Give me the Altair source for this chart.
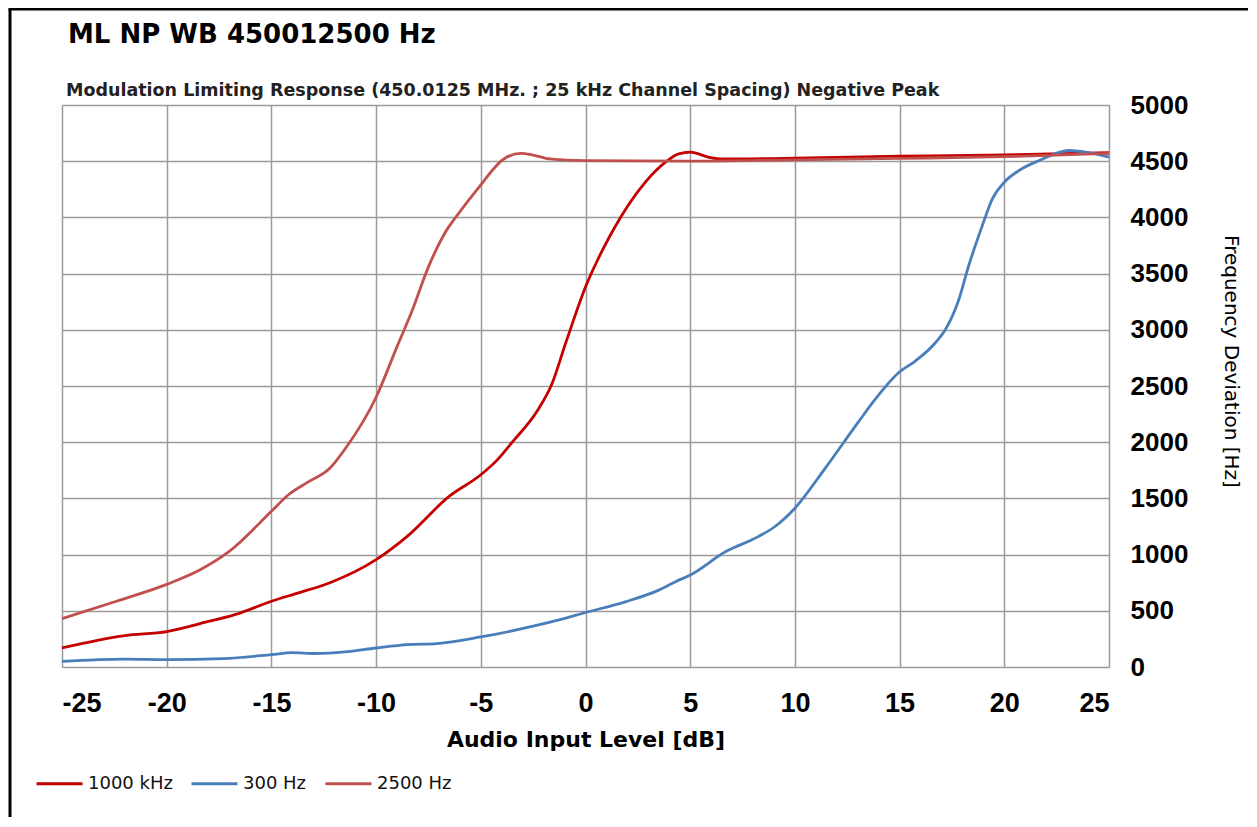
import altair as alt
import pandas as pd

# ---- data ----
chart_title = "ML NP WB 450012500 Hz"
chart_subtitle = "Modulation Limiting Response (450.0125 MHz. ; 25 kHz Channel Spacing) Negative Peak"

series_names = ["1000 kHz", "300 Hz", "2500 Hz"]
series_colors = ["#C40000", "#4A7EBB", "#C0504D"]
series_widths = [2.8, 2.8, 4.4]

x_1000 = [-25, -22, -20, -18, -16.5, -15, -13.7, -12.2, -10, -8.5, -6.5, -5, -4.2, -3.5,
          -2.3, -1.6, -0.95, 0, 1.27, 2.86, 3.82, 4.45, 5, 5.9, 6.5, 10, 15, 20, 25]
y_1000 = [170, 280, 315, 405, 480, 585, 660, 750, 955, 1165, 1520, 1710, 1845, 2000,
          2280, 2520, 2880, 3380, 3870, 4314, 4491, 4565, 4580, 4535, 4520, 4527, 4545, 4555, 4575]

x_300 = [-25, -22, -20, -17.3, -15, -14, -12.9, -11.5, -10, -8.5, -7.1, -5, -2.35, -1.27, 0,
         1.9, 3.5, 4.3, 5, 6.7, 8.25, 9.05, 10, 11.4, 13, 13.83, 14.95, 15.75, 16.71, 17.19,
         17.83, 18.3, 18.95, 19.43, 20, 20.7, 21.66, 23.1, 23.9, 25]
y_300 = [50, 70, 65, 75, 110, 128, 120, 134, 169, 199, 208, 267, 370, 420, 485,
         580, 684, 759, 818, 1027, 1160, 1250, 1413, 1756, 2172, 2381, 2618, 2722, 2885, 3003,
         3270, 3570, 3927, 4165, 4313, 4417, 4506, 4595, 4580, 4536]

x_2500 = [-25, -22.4, -20, -18.4, -17, -15, -14.2, -13.3, -12.2, -11.5, -10, -9, -8.3, -7.5,
          -6.75, -6, -5.15, -3.9, -3.1, -2.5, -1.7, 0, 5, 10, 15, 20, 25]
y_2500 = [430, 585, 735, 865, 1030, 1385, 1530, 1640, 1770, 1935, 2400, 2850, 3160, 3560,
          3850, 4050, 4254, 4520, 4570, 4555, 4520, 4505, 4500, 4512, 4525, 4540, 4570]

x_ticks = [-25, -20, -15, -10, -5, 0, 5, 10, 15, 20, 25]
y_ticks = [0, 500, 1000, 1500, 2000, 2500, 3000, 3500, 4000, 4500, 5000]

rows = []
for name, xs, ys in [("1000 kHz", x_1000, y_1000), ("300 Hz", x_300, y_300), ("2500 Hz", x_2500, y_2500)]:
    for i, (a, b) in enumerate(zip(xs, ys)):
        rows.append({"series": name, "level": a, "dev": b, "order": i})
df = pd.DataFrame(rows)

SANS = "Liberation Sans"
WIDE = "DejaVu Sans"

lines = alt.Chart(df).mark_line(interpolate="monotone").encode(
    x=alt.X("level:Q", scale=alt.Scale(domain=[-25, 25], nice=False),
            axis=alt.Axis(values=x_ticks, title="Audio Input Level [dB]", ticks=False, domain=False,
                          labelExpr="'' + datum.value",
                          labelFontSize=27, labelFontWeight="bold", labelColor="#000", labelFont=SANS,
                          labelPadding=23, titleFontSize=22, titleFontWeight="bold", titleFont=WIDE,
                          titleColor="#000", titlePadding=13, gridColor="#9a9a9a", gridWidth=1.5)),
    y=alt.Y("dev:Q", scale=alt.Scale(domain=[0, 5000], nice=False),
            axis=alt.Axis(orient="right", values=y_ticks, title="Frequency Deviation [Hz]", ticks=False,
                          domain=False, labelExpr="'' + datum.value",
                          labelFontSize=26, labelFontWeight="bold", labelColor="#000",
                          labelFont=SANS, labelAlign="left", labelPadding=21, titleFontSize=20,
                          titleFontWeight="normal", titleFont=WIDE, titleColor="#000",
                          titleAngle=90, titleX=121, titleY=256, titleAlign="center",
                          titleBaseline="middle",
                          gridColor="#9a9a9a", gridWidth=1.5)),
    color=alt.Color("series:N", scale=alt.Scale(domain=series_names, range=series_colors),
                    legend=alt.Legend(title=None, orient="none", legendX=-27, legendY=654,
                                      direction="horizontal", symbolType="stroke", symbolSize=2116,
                                      labelFontSize=18, labelFont=WIDE, labelColor="#111",
                                      labelOffset=4, columnPadding=12)),
    strokeWidth=alt.StrokeWidth("series:N", scale=alt.Scale(domain=series_names, range=series_widths),
                                legend=None),
    order="order:Q",
)

one = pd.DataFrame({"title": [chart_title], "subtitle": [chart_subtitle]})

title_mark = alt.Chart(one).mark_text(
    align="left", baseline="alphabetic", font=WIDE, fontSize=26, fontWeight="bold", color="#000"
).encode(x=alt.value(6), y=alt.value(-62), text="title:N")

subtitle_mark = alt.Chart(one).mark_text(
    align="left", baseline="alphabetic", font=WIDE, fontSize=17.5, fontWeight="bold", color="#222"
).encode(x=alt.value(4), y=alt.value(-9), text="subtitle:N")

frame_left = alt.Chart(one).mark_rule(color="#000", strokeWidth=3).encode(
    x=alt.value(-52), y=alt.value(-96), y2=alt.value(720))
frame_top = alt.Chart(one).mark_rule(color="#000", strokeWidth=3).encode(
    x=alt.value(-53.5), x2=alt.value(1300), y=alt.value(-96))

chart = alt.layer(frame_left, frame_top, title_mark, subtitle_mark, lines).properties(
    width=1047, height=562,
    autosize=alt.AutoSizeParams(type="none"),
    padding={"left": 54, "top": 97, "right": 139, "bottom": 150},
).configure_view(stroke="#888", strokeWidth=3).configure(background="white")

chart.save("out.html", embed_options={"renderer": "svg", "actions": False})
